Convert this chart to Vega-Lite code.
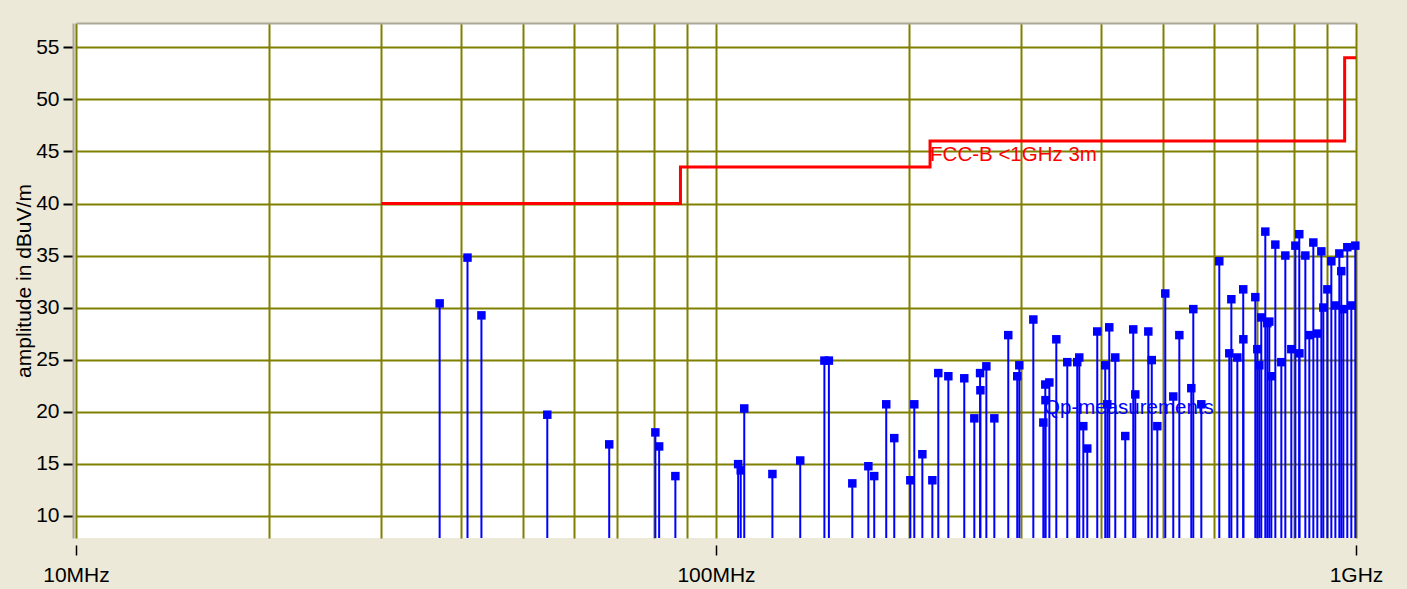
{
  "$schema": "https://vega.github.io/schema/vega-lite/v6.json",
  "width": 1280,
  "height": 515,
  "autosize": {"type": "none"},
  "padding": {"left": 76, "top": 23, "right": 51, "bottom": 51},
  "background": "#ECE9D8",
  "config": {"view": {"fill": "white", "stroke": null}, "font": "Liberation Sans"},
  "datasets": {
    "limit": [
      {"freq": 30, "amp": 40},
      {"freq": 88, "amp": 43.5},
      {"freq": 216, "amp": 46},
      {"freq": 960, "amp": 54},
      {"freq": 1000, "amp": 54}
    ],
    "notes": [
      {"freq": 216, "amp": 44.65, "label": "FCC-B <1GHz 3m"},
      {"freq": 325.5, "amp": 20.35, "label": "Qp-measurements"}
    ],
    "qp": [
      {"freq": 37.0, "amp": 30.4}, {"freq": 40.9, "amp": 34.8}, {"freq": 43.0, "amp": 29.25},
      {"freq": 54.5, "amp": 19.7}, {"freq": 68.1, "amp": 16.85}, {"freq": 80.4, "amp": 18.0},
      {"freq": 81.5, "amp": 16.65}, {"freq": 86.4, "amp": 13.8}, {"freq": 108.3, "amp": 14.95},
      {"freq": 109.3, "amp": 14.35}, {"freq": 110.7, "amp": 20.3}, {"freq": 122.5, "amp": 14.0},
      {"freq": 135.4, "amp": 15.3}, {"freq": 147.7, "amp": 24.9}, {"freq": 150.1, "amp": 24.9},
      {"freq": 163.3, "amp": 13.1}, {"freq": 173.0, "amp": 14.75}, {"freq": 176.7, "amp": 13.8},
      {"freq": 184.5, "amp": 20.7}, {"freq": 189.9, "amp": 17.45}, {"freq": 201.2, "amp": 13.4},
      {"freq": 204.1, "amp": 20.7}, {"freq": 210.1, "amp": 15.9}, {"freq": 217.8, "amp": 13.4},
      {"freq": 222.5, "amp": 23.7}, {"freq": 230.7, "amp": 23.4}, {"freq": 244.3, "amp": 23.2},
      {"freq": 253.3, "amp": 19.35}, {"freq": 258.6, "amp": 23.7}, {"freq": 258.9, "amp": 22.05},
      {"freq": 264.5, "amp": 24.35}, {"freq": 272.2, "amp": 19.35}, {"freq": 286.2, "amp": 27.35},
      {"freq": 295.6, "amp": 23.4}, {"freq": 297.8, "amp": 24.45}, {"freq": 313.2, "amp": 28.85},
      {"freq": 324.7, "amp": 18.95}, {"freq": 327.0, "amp": 22.6}, {"freq": 327.2, "amp": 21.1},
      {"freq": 331.8, "amp": 22.8}, {"freq": 340.2, "amp": 26.95}, {"freq": 353.9, "amp": 24.75},
      {"freq": 366.8, "amp": 24.75}, {"freq": 369.5, "amp": 25.2}, {"freq": 374.9, "amp": 18.6},
      {"freq": 380.3, "amp": 16.45}, {"freq": 394.2, "amp": 27.7}, {"freq": 405.7, "amp": 24.45},
      {"freq": 408.7, "amp": 20.7}, {"freq": 411.6, "amp": 28.1}, {"freq": 420.6, "amp": 25.2},
      {"freq": 436.0, "amp": 17.65}, {"freq": 448.7, "amp": 27.9}, {"freq": 452.0, "amp": 21.65},
      {"freq": 473.7, "amp": 27.7}, {"freq": 479.6, "amp": 24.95}, {"freq": 489.3, "amp": 18.6},
      {"freq": 503.5, "amp": 31.35}, {"freq": 518.2, "amp": 21.45}, {"freq": 529.6, "amp": 27.35},
      {"freq": 552.9, "amp": 22.25}, {"freq": 556.9, "amp": 29.85}, {"freq": 573.2, "amp": 20.7},
      {"freq": 611.5, "amp": 34.45}, {"freq": 633.9, "amp": 25.6}, {"freq": 638.6, "amp": 30.8},
      {"freq": 652.5, "amp": 25.2}, {"freq": 666.5, "amp": 31.75}, {"freq": 666.8, "amp": 26.95},
      {"freq": 696.1, "amp": 31.0}, {"freq": 701.1, "amp": 26.0}, {"freq": 706.2, "amp": 24.45},
      {"freq": 711.2, "amp": 29.05}, {"freq": 721.6, "amp": 37.3}, {"freq": 726.8, "amp": 28.5},
      {"freq": 732.0, "amp": 28.65}, {"freq": 737.4, "amp": 23.4}, {"freq": 748.1, "amp": 36.05},
      {"freq": 764.4, "amp": 24.75}, {"freq": 775.5, "amp": 35.0}, {"freq": 792.4, "amp": 26.0},
      {"freq": 804.0, "amp": 35.95}, {"freq": 815.4, "amp": 37.05}, {"freq": 815.8, "amp": 25.6},
      {"freq": 833.4, "amp": 35.0}, {"freq": 845.4, "amp": 27.35}, {"freq": 857.7, "amp": 36.25},
      {"freq": 870.1, "amp": 27.5}, {"freq": 882.8, "amp": 35.4}, {"freq": 889.1, "amp": 30.0},
      {"freq": 902.1, "amp": 31.75}, {"freq": 915.1, "amp": 34.45}, {"freq": 928.5, "amp": 30.2},
      {"freq": 941.8, "amp": 35.2}, {"freq": 948.4, "amp": 33.5}, {"freq": 955.5, "amp": 29.85},
      {"freq": 969.2, "amp": 35.8}, {"freq": 983.3, "amp": 30.2}, {"freq": 997.5, "amp": 35.95}
    ]
  },
  "layer": [
    {
      "data": {"name": "limit"},
      "mark": {"type": "line", "interpolate": "step-after", "color": "#FF0000", "strokeWidth": 3},
      "encoding": {
        "x": {
          "field": "freq", "type": "quantitative",
          "scale": {"type": "log", "domain": [10, 1000], "nice": false},
          "axis": {
            "orient": "bottom",
            "values": [10, 20, 30, 40, 50, 60, 70, 80, 90, 100, 200, 300, 400, 500, 600, 700, 800, 900, 1000],
            "grid": true, "gridColor": "#808000", "gridWidth": 2, "gridOpacity": 1,
            "domain": false, "offset": 7,
            "tickSize": 10, "tickColor": "black", "tickWidth": 1.5,
            "tickOpacity": {"condition": {"test": "datum.value == 10 || datum.value == 100 || datum.value == 1000", "value": 1}, "value": 0},
            "labelExpr": "datum.value == 10 ? '10MHz' : datum.value == 100 ? '100MHz' : datum.value == 1000 ? '1GHz' : ''",
            "labelFontSize": 21, "labelColor": "black", "labelPadding": 9,
            "labelBound": false, "labelOverlap": false, "labelFlush": false,
            "title": null
          }
        },
        "y": {
          "field": "amp", "type": "quantitative",
          "scale": {"domain": [7.85, 57.35], "nice": false, "zero": false},
          "axis": {
            "values": [10, 12.5, 15, 17.5, 20, 22.5, 25, 27.5, 30, 32.5, 35, 37.5, 40, 42.5, 45, 47.5, 50, 52.5, 55],
            "grid": true, "gridColor": "#808000", "gridWidth": 2, "gridOpacity": 1,
            "offset": 3, "domain": true, "domainColor": "#ACA899", "domainWidth": 2,
            "ticks": true, "tickSize": 10, "tickColor": "black", "tickWidth": 2,
            "tickOpacity": {"condition": {"test": "datum.value % 5 == 0", "value": 1}, "value": 0},
            "labelExpr": "datum.value % 5 == 0 ? datum.label : ''",
            "labelFontSize": 21, "labelColor": "black", "labelPadding": 4,
            "title": "amplitude in dBuV/m", "titleFontSize": 21, "titleFontWeight": "normal",
            "titleColor": "black", "titlePadding": 1
          }
        }
      }
    },
    {
      "data": {"name": "notes"},
      "mark": {"type": "text", "align": "left", "baseline": "middle", "fontSize": 20.5},
      "encoding": {
        "x": {"field": "freq", "type": "quantitative", "axis": null},
        "y": {"field": "amp", "type": "quantitative"},
        "text": {"field": "label"},
        "color": {"field": "label", "type": "nominal", "scale": {"domain": ["FCC-B <1GHz 3m", "Qp-measurements"], "range": ["#FF0000", "#0000FF"]}, "legend": null}
      }
    },
    {
      "data": {"name": "qp"},
      "mark": {"type": "rule", "color": "#0000FF", "strokeWidth": 2},
      "encoding": {
        "x": {"field": "freq", "type": "quantitative",
          "axis": {"orient": "top", "grid": false, "labels": false, "ticks": false, "domain": true, "domainColor": "#ACA899", "domainWidth": 2, "title": null}},
        "y": {"field": "amp", "type": "quantitative"},
        "y2": {"datum": 7.85}
      }
    },
    {
      "data": {"name": "qp"},
      "mark": {"type": "point", "shape": "square", "filled": true, "size": 72, "color": "#0000FF", "opacity": 1},
      "encoding": {
        "x": {"field": "freq", "type": "quantitative", "axis": null},
        "y": {"field": "amp", "type": "quantitative"}
      }
    }
  ],
  "resolve": {"axis": {"x": "independent"}}
}
